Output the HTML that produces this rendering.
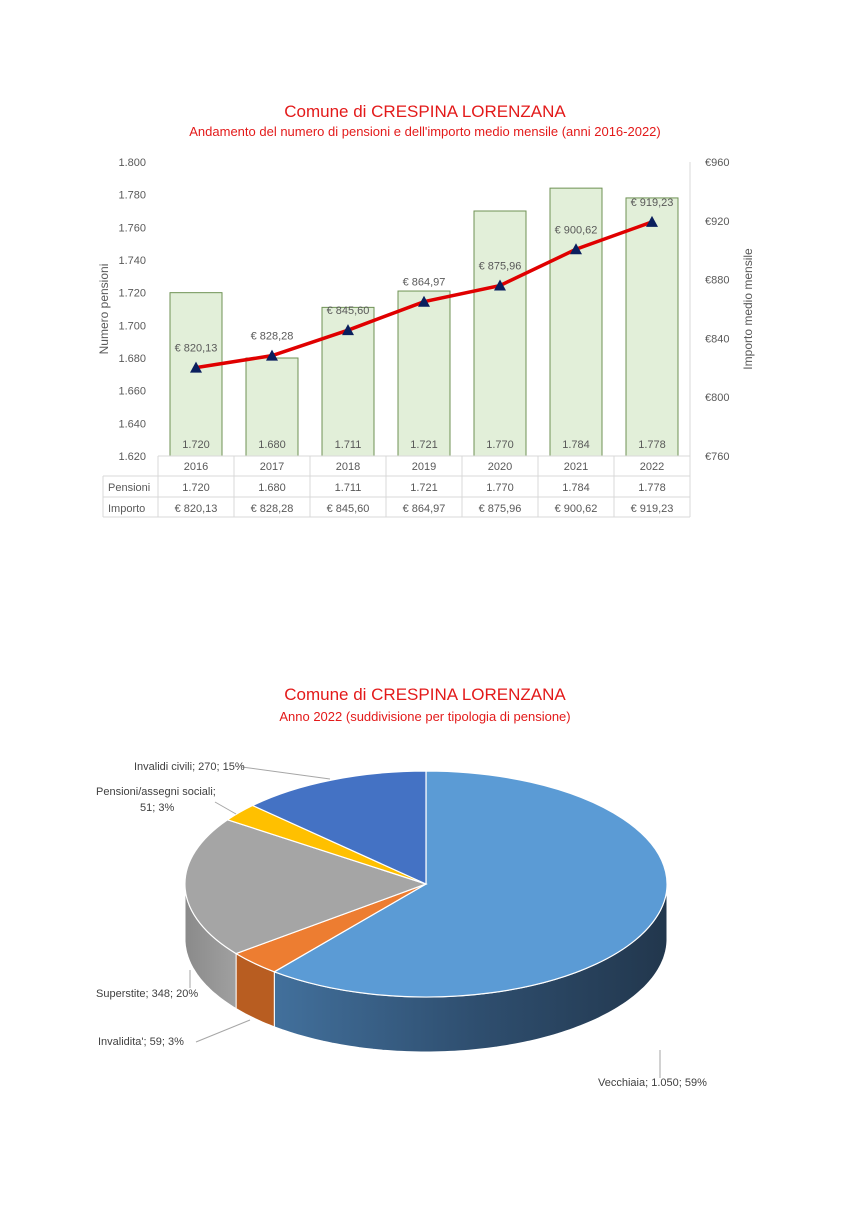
<!DOCTYPE html>
<html><head><meta charset="utf-8"><style>
body{margin:0;background:#fff}
svg text{font-family:"Liberation Sans",sans-serif}
</style></head><body>
<svg id="s" width="849" height="1200" xmlns="http://www.w3.org/2000/svg">
<defs>
<linearGradient id="gb" x1="0" x2="1" y1="0" y2="0">
<stop offset="0" stop-color="#42709c"/><stop offset="0.5" stop-color="#2f4f70"/><stop offset="1" stop-color="#22374d"/></linearGradient>
<linearGradient id="gg" x1="0" x2="1"><stop offset="0" stop-color="#8a8a8a"/><stop offset="1" stop-color="#a0a0a0"/></linearGradient>
</defs>
<text x="425" y="117" font-size="17" fill="#e31a1a" text-anchor="middle">Comune di CRESPINA LORENZANA</text>
<text x="425" y="136" font-size="13" fill="#e31a1a" text-anchor="middle">Andamento del numero di pensioni e dell'importo medio mensile (anni 2016-2022)</text>
<g id="c1"></g>
<text x="425" y="700" font-size="17" fill="#e31a1a" text-anchor="middle">Comune di CRESPINA LORENZANA</text>
<text x="425" y="721" font-size="13" fill="#e31a1a" text-anchor="middle">Anno 2022 (suddivisione per tipologia di pensione)</text>
<g id="c2"></g>
</svg>
<script>
(function(){
var g=document.getElementById('c1'),h='';
var pen=[1720,1680,1711,1721,1770,1784,1778],imp=[820.13,828.28,845.60,864.97,875.96,900.62,919.23];
var yrs=[2016,2017,2018,2019,2020,2021,2022];
function yl(v){return 456-(v-1620)/180*294}
function yr(v){return 456-(v-760)/200*294}
function f(v){return '€ '+v.toFixed(2).replace('.',',')}
function fp(v){return (v/1000).toFixed(3)}
var T='font-size="11" fill="#595959"';
for(var i=0;i<10;i++){var v=1620+i*20;h+='<text x="146" y="'+(yl(v)+4)+'" '+T+' text-anchor="end">'+fp(v)+'</text>';}
for(var i=0;i<6;i++){var v=760+i*40;h+='<text x="705" y="'+(yr(v)+4)+'" '+T+'>€'+v+'</text>';}
h+='<line x1="690" y1="162" x2="690" y2="517" stroke="#d9d9d9"/>';
h+='<line x1="158" y1="456" x2="158" y2="517" stroke="#d9d9d9"/>';
h+='<text transform="translate(108,309) rotate(-90)" font-size="12" fill="#595959" text-anchor="middle">Numero pensioni</text>';
h+='<text transform="translate(752,309) rotate(-90)" font-size="12" fill="#595959" text-anchor="middle">Importo medio mensile</text>';
var pts=[];
for(var i=0;i<7;i++){var cx=196+i*76;var y=yl(pen[i]);
h+='<rect x="'+(cx-26)+'" y="'+y+'" width="52" height="'+(456-y)+'" fill="#e2efd9" stroke="#6f9254" stroke-width="1"/>';
h+='<text x="'+cx+'" y="448" '+T+' text-anchor="middle">'+fp(pen[i])+'</text>';
pts.push(cx+','+yr(imp[i]));
h+='<text x="'+cx+'" y="470" '+T+' text-anchor="middle">'+yrs[i]+'</text>';
h+='<text x="'+cx+'" y="491" '+T+' text-anchor="middle">'+fp(pen[i])+'</text>';
h+='<text x="'+cx+'" y="512" '+T+' text-anchor="middle">'+f(imp[i])+'</text>';
h+='<line x1="'+(cx+38)+'" y1="456" x2="'+(cx+38)+'" y2="517" stroke="#d9d9d9"/>';
}
h+='<line x1="158" y1="456" x2="690" y2="456" stroke="#d9d9d9"/>';
h+='<line x1="103" y1="476" x2="690" y2="476" stroke="#d9d9d9"/><line x1="103" y1="497" x2="690" y2="497" stroke="#d9d9d9"/><line x1="103" y1="517" x2="690" y2="517" stroke="#d9d9d9"/><line x1="103" y1="476" x2="103" y2="517" stroke="#d9d9d9"/>';
h+='<text x="108" y="491" '+T+'>Pensioni</text><text x="108" y="512" '+T+'>Importo</text>';
h+='<polyline points="'+pts.join(' ')+'" fill="none" stroke="#e00000" stroke-width="3.5"/>';
for(var i=0;i<7;i++){var cx=196+i*76,y=yr(imp[i]);
h+='<polygon points="'+cx+','+(y-6)+' '+(cx-6)+','+(y+5)+' '+(cx+6)+','+(y+5)+'" fill="#0b1f5e"/>';
h+='<text x="'+cx+'" y="'+(y-16)+'" '+T+' text-anchor="middle" fill="#404040">'+f(imp[i])+'</text>';}
g.innerHTML=h;

var g2=document.getElementById('c2'),s='';
var cx=426,cy=884,rx=241,ry=113,d=55;
var tops=['#5b9bd5','#ed7d31','#a5a5a5','#ffc000','#4472c4'];
var side=['url(#gb)','#b85d21','url(#gg)','#c99800','#335a9c'];
function P(a,o){return (cx+rx*Math.sin(a)).toFixed(1)+','+(cy-ry*Math.cos(a)+(o||0)).toFixed(1)}
var B=[0,219,232,304.6,314,360],ang=[];
for(var i=0;i<5;i++)ang.push([B[i]*Math.PI/180,B[i+1]*Math.PI/180]);
for(var i=0;i<5;i++){var a1=Math.max(ang[i][0],Math.PI/2),a2=Math.min(ang[i][1],3*Math.PI/2);
if(a2<=a1)continue;
var p='M'+P(a1);for(var t=a1;t<=a2;t+=0.02)p+=' L'+P(t);p+=' L'+P(a2)+' L'+P(a2,d);
for(var t=a2;t>=a1;t-=0.02)p+=' L'+P(t,d);p+=' L'+P(a1,d)+'Z';
s+='<path d="'+p+'" fill="'+side[i]+'" stroke="#fff" stroke-width="1"/>';}
for(var i=0;i<5;i++){var a1=ang[i][0],a2=ang[i][1];var lg=(a2-a1)>Math.PI?1:0;
s+='<path d="M'+cx+','+cy+' L'+P(a1)+' A'+rx+','+ry+' 0 '+lg+' 1 '+P(a2)+'Z" fill="'+tops[i]+'" stroke="#fff" stroke-width="1.2"/>';}
var L='font-size="11" fill="#404040"';
s+='<polyline points="242,767 330,779" fill="none" stroke="#a6a6a6"/>';
s+='<text x="134" y="770" '+L+'>Invalidi civili; 270; 15%</text>';
s+='<text x="96" y="795" '+L+'>Pensioni/assegni sociali;</text><text x="140" y="811" '+L+'>51; 3%</text>';
s+='<polyline points="215,802 236,814" fill="none" stroke="#a6a6a6"/>';
s+='<text x="96" y="997" '+L+'>Superstite; 348; 20%</text>';
s+='<polyline points="190,988 190,970" fill="none" stroke="#a6a6a6"/>';
s+='<text x="98" y="1045" '+L+'>Invalidita\'; 59; 3%</text>';
s+='<polyline points="196,1042 250,1020" fill="none" stroke="#a6a6a6"/>';
s+='<text x="598" y="1086" '+L+'>Vecchiaia; 1.050; 59%</text>';
s+='<polyline points="660,1050 660,1078" fill="none" stroke="#a6a6a6"/>';
g2.innerHTML=s;
})();
</script>
</body></html>
